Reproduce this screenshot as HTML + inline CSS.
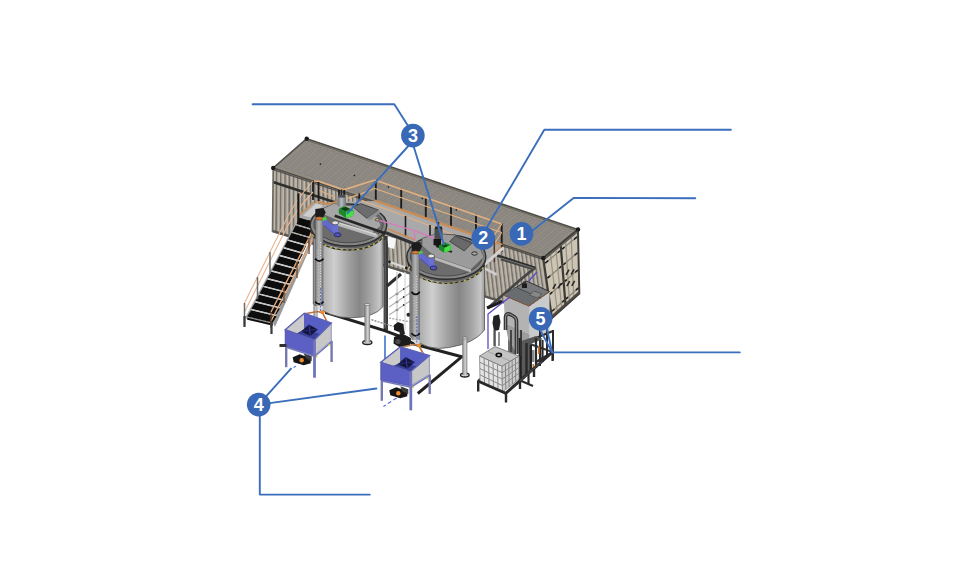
<!DOCTYPE html>
<html><head><meta charset="utf-8"><title>Plant layout</title>
<style>html,body{margin:0;padding:0;background:#fff;}svg{display:block;}</style></head>
<body>
<svg width="953" height="577" viewBox="0 0 953 577">
<defs>
<filter id="soft" x="0" y="0" width="953" height="577" filterUnits="userSpaceOnUse"><feGaussianBlur stdDeviation="0.45"/></filter>
<linearGradient id="tg" x1="0" x2="1" y1="0" y2="0">
<stop offset="0" stop-color="#8c8d8f"/><stop offset="0.12" stop-color="#a9aaab"/><stop offset="0.30" stop-color="#cfcfcf"/>
<stop offset="0.50" stop-color="#a2a2a2"/><stop offset="0.66" stop-color="#868686"/><stop offset="0.84" stop-color="#a8a8a8"/>
<stop offset="0.95" stop-color="#c6c6c6"/><stop offset="1" stop-color="#9a9a9a"/>
</linearGradient>
<linearGradient id="lg" x1="0" x2="1" y1="0" y2="0">
<stop offset="0" stop-color="#6e6e6e"/><stop offset="0.25" stop-color="#a2a2a2"/><stop offset="0.6" stop-color="#d6d6d6"/><stop offset="1" stop-color="#7c7c7c"/>
</linearGradient>
<linearGradient id="mg" x1="0" x2="1" y1="0" y2="0"><stop offset="0" stop-color="#6e7478"/><stop offset="0.45" stop-color="#b4babd"/><stop offset="1" stop-color="#70767a"/></linearGradient>
<linearGradient id="pg" x1="0" x2="1" y1="0" y2="0">
<stop offset="0" stop-color="#5e5e5e"/><stop offset="0.12" stop-color="#8a8a8a"/><stop offset="0.45" stop-color="#b4b4b4"/><stop offset="0.85" stop-color="#8c8c8c"/><stop offset="1" stop-color="#5a5a5a"/>
</linearGradient>
</defs>
<rect width="953" height="577" fill="#fff"/>
<g id="illustration" filter="url(#soft)">
<g id="container">
<polygon points="273.2,168.0 543.3,258.0 552.0,318.0 272.5,232.0" fill="#bfb6a7" />
<polygon points="275.8,168.9 277.4,169.4 276.9,233.3 275.2,232.8" fill="#76736e" />
<polygon points="273.2,168.0 274.0,168.3 273.4,232.3 272.5,232.0" fill="#a09e99" />
<polygon points="280.0,170.3 281.6,170.8 281.2,234.7 279.6,234.2" fill="#76736e" />
<polygon points="277.4,169.4 278.3,169.7 277.7,233.6 276.9,233.3" fill="#a09e99" />
<polygon points="284.3,171.7 285.9,172.2 285.6,236.0 283.9,235.5" fill="#76736e" />
<polygon points="281.6,170.8 282.5,171.1 282.1,235.0 281.2,234.7" fill="#a09e99" />
<polygon points="288.5,173.1 290.1,173.6 290.0,237.4 288.3,236.9" fill="#76736e" />
<polygon points="285.9,172.2 286.7,172.5 286.5,236.3 285.6,236.0" fill="#a09e99" />
<polygon points="292.7,174.5 294.3,175.0 294.3,238.7 292.7,238.2" fill="#76736e" />
<polygon points="290.1,173.6 290.9,173.9 290.8,237.6 290.0,237.4" fill="#a09e99" />
<polygon points="296.9,175.9 298.5,176.4 298.7,240.1 297.0,239.6" fill="#76736e" />
<polygon points="294.3,175.0 295.1,175.3 295.2,239.0 294.3,238.7" fill="#a09e99" />
<polygon points="301.1,177.3 302.7,177.8 303.1,241.4 301.4,240.9" fill="#76736e" />
<polygon points="298.5,176.4 299.4,176.7 299.6,240.3 298.7,240.1" fill="#a09e99" />
<polygon points="305.4,178.7 307.0,179.2 307.4,242.8 305.8,242.2" fill="#76736e" />
<polygon points="302.7,177.8 303.6,178.1 303.9,241.7 303.1,241.4" fill="#a09e99" />
<polygon points="309.6,180.1 311.2,180.7 311.8,244.1 310.1,243.6" fill="#76736e" />
<polygon points="307.0,179.2 307.8,179.5 308.3,243.0 307.4,242.8" fill="#a09e99" />
<polygon points="313.8,181.5 315.4,182.1 316.2,245.4 314.5,244.9" fill="#76736e" />
<polygon points="311.2,180.7 312.0,180.9 312.7,244.4 311.8,244.1" fill="#a09e99" />
<polygon points="318.0,182.9 319.6,183.5 320.5,246.8 318.9,246.3" fill="#76736e" />
<polygon points="315.4,182.1 316.2,182.3 317.0,245.7 316.2,245.4" fill="#a09e99" />
<polygon points="322.2,184.3 323.8,184.9 324.9,248.1 323.2,247.6" fill="#76736e" />
<polygon points="319.6,183.5 320.5,183.8 321.4,247.1 320.5,246.8" fill="#a09e99" />
<polygon points="326.5,185.7 328.1,186.3 329.3,249.5 327.6,249.0" fill="#76736e" />
<polygon points="323.8,184.9 324.7,185.2 325.8,248.4 324.9,248.1" fill="#a09e99" />
<polygon points="330.7,187.2 332.3,187.7 333.6,250.8 332.0,250.3" fill="#76736e" />
<polygon points="328.1,186.3 328.9,186.6 330.1,249.7 329.3,249.5" fill="#a09e99" />
<polygon points="334.9,188.6 336.5,189.1 338.0,252.2 336.3,251.6" fill="#76736e" />
<polygon points="332.3,187.7 333.1,188.0 334.5,251.1 333.6,250.8" fill="#a09e99" />
<polygon points="339.1,190.0 340.7,190.5 342.4,253.5 340.7,253.0" fill="#76736e" />
<polygon points="336.5,189.1 337.3,189.4 338.9,252.4 338.0,252.2" fill="#a09e99" />
<polygon points="343.3,191.4 344.9,191.9 346.7,254.8 345.1,254.3" fill="#76736e" />
<polygon points="340.7,190.5 341.6,190.8 343.2,253.8 342.4,253.5" fill="#a09e99" />
<polygon points="347.6,192.8 349.2,193.3 351.1,256.2 349.4,255.7" fill="#76736e" />
<polygon points="344.9,191.9 345.8,192.2 347.6,255.1 346.7,254.8" fill="#a09e99" />
<polygon points="351.8,194.2 353.4,194.7 355.5,257.5 353.8,257.0" fill="#76736e" />
<polygon points="349.2,193.3 350.0,193.6 352.0,256.5 351.1,256.2" fill="#a09e99" />
<polygon points="356.0,195.6 357.6,196.1 359.8,258.9 358.2,258.4" fill="#76736e" />
<polygon points="353.4,194.7 354.2,195.0 356.4,257.8 355.5,257.5" fill="#a09e99" />
<polygon points="360.2,197.0 361.8,197.5 364.2,260.2 362.6,259.7" fill="#76736e" />
<polygon points="357.6,196.1 358.5,196.4 360.7,259.1 359.8,258.9" fill="#a09e99" />
<polygon points="364.4,198.4 366.0,198.9 368.6,261.6 366.9,261.1" fill="#76736e" />
<polygon points="361.8,197.5 362.7,197.8 365.1,260.5 364.2,260.2" fill="#a09e99" />
<polygon points="368.7,199.8 370.3,200.3 372.9,262.9 371.3,262.4" fill="#76736e" />
<polygon points="366.0,198.9 366.9,199.2 369.5,261.8 368.6,261.6" fill="#a09e99" />
<polygon points="372.9,201.2 374.5,201.8 377.3,264.2 375.7,263.7" fill="#76736e" />
<polygon points="370.3,200.3 371.1,200.6 373.8,263.2 372.9,262.9" fill="#a09e99" />
<polygon points="377.1,202.6 378.7,203.2 381.7,265.6 380.0,265.1" fill="#76736e" />
<polygon points="374.5,201.8 375.3,202.0 378.2,264.5 377.3,264.2" fill="#a09e99" />
<polygon points="381.3,204.0 382.9,204.6 386.0,266.9 384.4,266.4" fill="#76736e" />
<polygon points="378.7,203.2 379.6,203.4 382.6,265.9 381.7,265.6" fill="#a09e99" />
<polygon points="385.5,205.4 387.1,206.0 390.4,268.3 388.8,267.8" fill="#76736e" />
<polygon points="382.9,204.6 383.8,204.8 386.9,267.2 386.0,266.9" fill="#a09e99" />
<polygon points="389.8,206.8 391.4,207.4 394.8,269.6 393.1,269.1" fill="#76736e" />
<polygon points="387.1,206.0 388.0,206.2 391.3,268.6 390.4,268.3" fill="#a09e99" />
<polygon points="394.0,208.2 395.6,208.8 399.1,271.0 397.5,270.5" fill="#76736e" />
<polygon points="391.4,207.4 392.2,207.7 395.7,269.9 394.8,269.6" fill="#a09e99" />
<polygon points="398.2,209.7 399.8,210.2 403.5,272.3 401.9,271.8" fill="#76736e" />
<polygon points="395.6,208.8 396.4,209.1 400.0,271.2 399.1,271.0" fill="#a09e99" />
<polygon points="402.4,211.1 404.0,211.6 407.9,273.7 406.2,273.1" fill="#76736e" />
<polygon points="399.8,210.2 400.7,210.5 404.4,272.6 403.5,272.3" fill="#a09e99" />
<polygon points="406.6,212.5 408.2,213.0 412.2,275.0 410.6,274.5" fill="#76736e" />
<polygon points="404.0,211.6 404.9,211.9 408.8,273.9 407.9,273.7" fill="#a09e99" />
<polygon points="410.9,213.9 412.5,214.4 416.6,276.3 415.0,275.8" fill="#76736e" />
<polygon points="408.2,213.0 409.1,213.3 413.1,275.3 412.2,275.0" fill="#a09e99" />
<polygon points="415.1,215.3 416.7,215.8 421.0,277.7 419.3,277.2" fill="#76736e" />
<polygon points="412.5,214.4 413.3,214.7 417.5,276.6 416.6,276.3" fill="#a09e99" />
<polygon points="419.3,216.7 420.9,217.2 425.4,279.0 423.7,278.5" fill="#76736e" />
<polygon points="416.7,215.8 417.5,216.1 421.9,278.0 421.0,277.7" fill="#a09e99" />
<polygon points="423.5,218.1 425.1,218.6 429.7,280.4 428.1,279.9" fill="#76736e" />
<polygon points="420.9,217.2 421.8,217.5 426.2,279.3 425.4,279.0" fill="#a09e99" />
<polygon points="427.7,219.5 429.4,220.0 434.1,281.7 432.4,281.2" fill="#76736e" />
<polygon points="425.1,218.6 426.0,218.9 430.6,280.6 429.7,280.4" fill="#a09e99" />
<polygon points="432.0,220.9 433.6,221.4 438.5,283.1 436.8,282.6" fill="#76736e" />
<polygon points="429.4,220.0 430.2,220.3 435.0,282.0 434.1,281.7" fill="#a09e99" />
<polygon points="436.2,222.3 437.8,222.8 442.8,284.4 441.2,283.9" fill="#76736e" />
<polygon points="433.6,221.4 434.4,221.7 439.3,283.3 438.5,283.1" fill="#a09e99" />
<polygon points="440.4,223.7 442.0,224.2 447.2,285.8 445.5,285.2" fill="#76736e" />
<polygon points="437.8,222.8 438.6,223.1 443.7,284.7 442.8,284.4" fill="#a09e99" />
<polygon points="444.6,225.1 446.2,225.7 451.6,287.1 449.9,286.6" fill="#76736e" />
<polygon points="442.0,224.2 442.9,224.5 448.1,286.0 447.2,285.8" fill="#a09e99" />
<polygon points="448.8,226.5 450.5,227.1 455.9,288.4 454.3,287.9" fill="#76736e" />
<polygon points="446.2,225.7 447.1,225.9 452.4,287.4 451.6,287.1" fill="#a09e99" />
<polygon points="453.1,227.9 454.7,228.5 460.3,289.8 458.6,289.3" fill="#76736e" />
<polygon points="450.5,227.1 451.3,227.3 456.8,288.7 455.9,288.4" fill="#a09e99" />
<polygon points="457.3,229.3 458.9,229.9 464.7,291.1 463.0,290.6" fill="#76736e" />
<polygon points="454.7,228.5 455.5,228.8 461.2,290.1 460.3,289.8" fill="#a09e99" />
<polygon points="461.5,230.7 463.1,231.3 469.0,292.5 467.4,292.0" fill="#76736e" />
<polygon points="458.9,229.9 459.7,230.2 465.5,291.4 464.7,291.1" fill="#a09e99" />
<polygon points="465.7,232.2 467.3,232.7 473.4,293.8 471.7,293.3" fill="#76736e" />
<polygon points="463.1,231.3 464.0,231.6 469.9,292.7 469.0,292.5" fill="#a09e99" />
<polygon points="470.0,233.6 471.6,234.1 477.8,295.2 476.1,294.6" fill="#76736e" />
<polygon points="467.3,232.7 468.2,233.0 474.3,294.1 473.4,293.8" fill="#a09e99" />
<polygon points="474.2,235.0 475.8,235.5 482.1,296.5 480.5,296.0" fill="#76736e" />
<polygon points="471.6,234.1 472.4,234.4 478.6,295.4 477.8,295.2" fill="#a09e99" />
<polygon points="478.4,236.4 480.0,236.9 486.5,297.8 484.8,297.3" fill="#76736e" />
<polygon points="475.8,235.5 476.6,235.8 483.0,296.8 482.1,296.5" fill="#a09e99" />
<polygon points="482.6,237.8 484.2,238.3 490.9,299.2 489.2,298.7" fill="#76736e" />
<polygon points="480.0,236.9 480.8,237.2 487.4,298.1 486.5,297.8" fill="#a09e99" />
<polygon points="486.8,239.2 488.4,239.7 495.2,300.5 493.6,300.0" fill="#76736e" />
<polygon points="484.2,238.3 485.1,238.6 491.7,299.5 490.9,299.2" fill="#a09e99" />
<polygon points="491.1,240.6 492.7,241.1 499.6,301.9 497.9,301.4" fill="#76736e" />
<polygon points="488.4,239.7 489.3,240.0 496.1,300.8 495.2,300.5" fill="#a09e99" />
<polygon points="495.3,242.0 496.9,242.5 504.0,303.2 502.3,302.7" fill="#76736e" />
<polygon points="492.7,241.1 493.5,241.4 500.5,302.1 499.6,301.9" fill="#a09e99" />
<polygon points="499.5,243.4 501.1,243.9 508.3,304.6 506.7,304.1" fill="#76736e" />
<polygon points="496.9,242.5 497.7,242.8 504.8,303.5 504.0,303.2" fill="#a09e99" />
<polygon points="503.7,244.8 505.3,245.3 512.7,305.9 511.0,305.4" fill="#76736e" />
<polygon points="501.1,243.9 501.9,244.2 509.2,304.8 508.3,304.6" fill="#a09e99" />
<polygon points="507.9,246.2 509.5,246.8 517.1,307.2 515.4,306.7" fill="#76736e" />
<polygon points="505.3,245.3 506.2,245.6 513.6,306.2 512.7,305.9" fill="#a09e99" />
<polygon points="512.2,247.6 513.8,248.2 521.4,308.6 519.8,308.1" fill="#76736e" />
<polygon points="509.5,246.8 510.4,247.0 517.9,307.5 517.1,307.2" fill="#a09e99" />
<polygon points="516.4,249.0 518.0,249.6 525.8,309.9 524.1,309.4" fill="#76736e" />
<polygon points="513.8,248.2 514.6,248.4 522.3,308.9 521.4,308.6" fill="#a09e99" />
<polygon points="520.6,250.4 522.2,251.0 530.2,311.3 528.5,310.8" fill="#76736e" />
<polygon points="518.0,249.6 518.8,249.8 526.7,310.2 525.8,309.9" fill="#a09e99" />
<polygon points="524.8,251.8 526.4,252.4 534.5,312.6 532.9,312.1" fill="#76736e" />
<polygon points="522.2,251.0 523.0,251.2 531.0,311.6 530.2,311.3" fill="#a09e99" />
<polygon points="529.0,253.2 530.6,253.8 538.9,314.0 537.2,313.5" fill="#76736e" />
<polygon points="526.4,252.4 527.3,252.7 535.4,312.9 534.5,312.6" fill="#a09e99" />
<polygon points="533.3,254.7 534.9,255.2 543.3,315.3 541.6,314.8" fill="#76736e" />
<polygon points="530.6,253.8 531.5,254.1 539.8,314.2 538.9,314.0" fill="#a09e99" />
<polygon points="537.5,256.1 539.1,256.6 547.6,316.7 546.0,316.1" fill="#76736e" />
<polygon points="534.9,255.2 535.7,255.5 544.1,315.6 543.3,315.3" fill="#a09e99" />
<polygon points="541.7,257.5 543.3,258.0 552.0,318.0 550.3,317.5" fill="#76736e" />
<polygon points="539.1,256.6 539.9,256.9 548.5,316.9 547.6,316.7" fill="#a09e99" />
<polyline points="273.2,169.6 543.5,259.5" fill="none" stroke="#57544f" stroke-width="1.5" />
<polyline points="273.0,182.1 535.4,268.0" fill="none" stroke="#2e2d2b" stroke-width="2.6" />
<polyline points="272.5,231.0 551.9,317.1" fill="none" stroke="#5a5752" stroke-width="2.4" />
<polyline points="273.2,168.0 272.5,232.0" fill="none" stroke="#6a675f" stroke-width="1.6" />
<polygon points="306.7,138.7 578.0,229.5 543.3,258.0 273.2,168.0" fill="#938b7f" />
<polygon points="304.7,142.1 308.6,143.4 281.8,166.8 277.9,165.5" fill="none" stroke="#7e8389" stroke-width="1.0" stroke-linejoin="round"/>
<polygon points="311.3,144.3 315.3,145.6 288.4,169.0 284.5,167.7" fill="none" stroke="#7e8389" stroke-width="1.0" stroke-linejoin="round"/>
<polygon points="317.9,146.5 321.9,147.8 295.0,171.2 291.0,169.9" fill="none" stroke="#7e8389" stroke-width="1.0" stroke-linejoin="round"/>
<polygon points="324.5,148.7 328.5,150.0 301.6,173.4 297.6,172.1" fill="none" stroke="#7e8389" stroke-width="1.0" stroke-linejoin="round"/>
<polygon points="331.1,150.9 335.1,152.3 308.2,175.6 304.2,174.3" fill="none" stroke="#7e8389" stroke-width="1.0" stroke-linejoin="round"/>
<polygon points="337.7,153.1 341.7,154.5 314.8,177.8 310.8,176.5" fill="none" stroke="#7e8389" stroke-width="1.0" stroke-linejoin="round"/>
<polygon points="344.4,155.3 348.3,156.7 321.4,180.0 317.4,178.7" fill="none" stroke="#7e8389" stroke-width="1.0" stroke-linejoin="round"/>
<polygon points="351.0,157.6 354.9,158.9 328.0,182.2 324.0,180.9" fill="none" stroke="#7e8389" stroke-width="1.0" stroke-linejoin="round"/>
<polygon points="357.6,159.8 361.6,161.1 334.5,184.4 330.6,183.1" fill="none" stroke="#7e8389" stroke-width="1.0" stroke-linejoin="round"/>
<polygon points="364.2,162.0 368.2,163.3 341.1,186.6 337.2,185.3" fill="none" stroke="#7e8389" stroke-width="1.0" stroke-linejoin="round"/>
<polygon points="370.8,164.2 374.8,165.5 347.7,188.8 343.8,187.5" fill="none" stroke="#7e8389" stroke-width="1.0" stroke-linejoin="round"/>
<polygon points="377.4,166.4 381.4,167.7 354.3,191.0 350.4,189.7" fill="none" stroke="#7e8389" stroke-width="1.0" stroke-linejoin="round"/>
<polygon points="384.0,168.6 388.0,170.0 360.9,193.2 357.0,191.9" fill="none" stroke="#7e8389" stroke-width="1.0" stroke-linejoin="round"/>
<polygon points="390.7,170.8 394.6,172.2 367.5,195.4 363.5,194.1" fill="none" stroke="#7e8389" stroke-width="1.0" stroke-linejoin="round"/>
<polygon points="397.3,173.1 401.2,174.4 374.1,197.6 370.1,196.3" fill="none" stroke="#7e8389" stroke-width="1.0" stroke-linejoin="round"/>
<polygon points="403.9,175.3 407.9,176.6 380.7,199.8 376.7,198.5" fill="none" stroke="#7e8389" stroke-width="1.0" stroke-linejoin="round"/>
<polygon points="410.5,177.5 414.5,178.8 387.3,202.0 383.3,200.7" fill="none" stroke="#7e8389" stroke-width="1.0" stroke-linejoin="round"/>
<polygon points="417.1,179.7 421.1,181.0 393.9,204.2 389.9,202.9" fill="none" stroke="#7e8389" stroke-width="1.0" stroke-linejoin="round"/>
<polygon points="423.7,181.9 427.7,183.2 400.5,206.4 396.5,205.1" fill="none" stroke="#7e8389" stroke-width="1.0" stroke-linejoin="round"/>
<polygon points="430.3,184.1 434.3,185.4 407.0,208.6 403.1,207.3" fill="none" stroke="#7e8389" stroke-width="1.0" stroke-linejoin="round"/>
<polygon points="437.0,186.3 440.9,187.7 413.6,210.8 409.7,209.5" fill="none" stroke="#7e8389" stroke-width="1.0" stroke-linejoin="round"/>
<polygon points="443.6,188.5 447.5,189.9 420.2,213.0 416.3,211.6" fill="none" stroke="#7e8389" stroke-width="1.0" stroke-linejoin="round"/>
<polygon points="450.2,190.8 454.2,192.1 426.8,215.2 422.9,213.8" fill="none" stroke="#7e8389" stroke-width="1.0" stroke-linejoin="round"/>
<polygon points="456.8,193.0 460.8,194.3 433.4,217.4 429.5,216.0" fill="none" stroke="#7e8389" stroke-width="1.0" stroke-linejoin="round"/>
<polygon points="463.4,195.2 467.4,196.5 440.0,219.6 436.0,218.2" fill="none" stroke="#7e8389" stroke-width="1.0" stroke-linejoin="round"/>
<polygon points="470.0,197.4 474.0,198.7 446.6,221.8 442.6,220.4" fill="none" stroke="#7e8389" stroke-width="1.0" stroke-linejoin="round"/>
<polygon points="476.6,199.6 480.6,200.9 453.2,224.0 449.2,222.6" fill="none" stroke="#7e8389" stroke-width="1.0" stroke-linejoin="round"/>
<polygon points="483.3,201.8 487.2,203.1 459.8,226.1 455.8,224.8" fill="none" stroke="#7e8389" stroke-width="1.0" stroke-linejoin="round"/>
<polygon points="489.9,204.0 493.8,205.4 466.4,228.3 462.4,227.0" fill="none" stroke="#7e8389" stroke-width="1.0" stroke-linejoin="round"/>
<polygon points="496.5,206.2 500.5,207.6 473.0,230.5 469.0,229.2" fill="none" stroke="#7e8389" stroke-width="1.0" stroke-linejoin="round"/>
<polygon points="503.1,208.5 507.1,209.8 479.5,232.7 475.6,231.4" fill="none" stroke="#7e8389" stroke-width="1.0" stroke-linejoin="round"/>
<polygon points="509.7,210.7 513.7,212.0 486.1,234.9 482.2,233.6" fill="none" stroke="#7e8389" stroke-width="1.0" stroke-linejoin="round"/>
<polygon points="516.3,212.9 520.3,214.2 492.7,237.1 488.8,235.8" fill="none" stroke="#7e8389" stroke-width="1.0" stroke-linejoin="round"/>
<polygon points="522.9,215.1 526.9,216.4 499.3,239.3 495.4,238.0" fill="none" stroke="#7e8389" stroke-width="1.0" stroke-linejoin="round"/>
<polygon points="529.6,217.3 533.5,218.6 505.9,241.5 502.0,240.2" fill="none" stroke="#7e8389" stroke-width="1.0" stroke-linejoin="round"/>
<polygon points="536.2,219.5 540.1,220.8 512.5,243.7 508.5,242.4" fill="none" stroke="#7e8389" stroke-width="1.0" stroke-linejoin="round"/>
<polygon points="542.8,221.7 546.8,223.1 519.1,245.9 515.1,244.6" fill="none" stroke="#7e8389" stroke-width="1.0" stroke-linejoin="round"/>
<polygon points="549.4,223.9 553.4,225.3 525.7,248.1 521.7,246.8" fill="none" stroke="#7e8389" stroke-width="1.0" stroke-linejoin="round"/>
<polygon points="556.0,226.2 560.0,227.5 532.3,250.3 528.3,249.0" fill="none" stroke="#7e8389" stroke-width="1.0" stroke-linejoin="round"/>
<polygon points="562.6,228.4 566.6,229.7 538.9,252.5 534.9,251.2" fill="none" stroke="#7e8389" stroke-width="1.0" stroke-linejoin="round"/>
<polygon points="569.2,230.6 573.2,231.9 545.5,254.7 541.5,253.4" fill="none" stroke="#7e8389" stroke-width="1.0" stroke-linejoin="round"/>
<ellipse cx="320.4" cy="164.1" rx="0.9" ry="0.8" fill="#1e1e1e" />
<ellipse cx="354.4" cy="175.5" rx="0.9" ry="0.8" fill="#1e1e1e" />
<ellipse cx="388.4" cy="187.0" rx="0.9" ry="0.8" fill="#1e1e1e" />
<ellipse cx="422.4" cy="198.4" rx="0.9" ry="0.8" fill="#1e1e1e" />
<ellipse cx="456.4" cy="209.9" rx="0.9" ry="0.8" fill="#1e1e1e" />
<ellipse cx="490.4" cy="221.3" rx="0.9" ry="0.8" fill="#1e1e1e" />
<ellipse cx="524.4" cy="232.8" rx="0.9" ry="0.8" fill="#1e1e1e" />
<polygon points="306.7,138.7 578.0,229.5 543.3,258.0 273.2,168.0" fill="none" stroke="#504d48" stroke-width="1.5" />
<polyline points="305.4,139.9 576.6,230.6" fill="none" stroke="#6b675f" stroke-width="1" />
<polygon points="543.3,258.0 578.0,229.5 579.3,293.6 552.0,318.0" fill="#cdc5b4" stroke="#3e3c39" stroke-width="2" />
<line x1="550.5" y1="254.7" x2="557.2" y2="310.7" stroke="#979184" stroke-width="1.2" />
<line x1="556.0" y1="250.2" x2="561.6" y2="306.8" stroke="#979184" stroke-width="1.2" />
<line x1="565.7" y1="242.3" x2="569.3" y2="299.9" stroke="#979184" stroke-width="1.2" />
<line x1="571.2" y1="237.7" x2="573.7" y2="295.9" stroke="#979184" stroke-width="1.2" />
<line x1="545.5" y1="262.9" x2="560.1" y2="250.8" stroke="#8b8579" stroke-width="1.3" />
<line x1="562.2" y1="249.1" x2="576.8" y2="237.0" stroke="#8b8579" stroke-width="1.3" />
<line x1="545.2" y1="263.2" x2="548.2" y2="260.6" stroke="#1f1e1c" stroke-width="1.5" />
<line x1="557.8" y1="252.8" x2="560.1" y2="250.8" stroke="#1f1e1c" stroke-width="1.5" />
<line x1="562.2" y1="249.1" x2="564.5" y2="247.1" stroke="#1f1e1c" stroke-width="1.5" />
<line x1="574.1" y1="239.3" x2="577.1" y2="236.8" stroke="#1f1e1c" stroke-width="1.5" />
<line x1="547.6" y1="277.9" x2="561.4" y2="266.3" stroke="#8b8579" stroke-width="1.3" />
<line x1="563.4" y1="264.7" x2="577.2" y2="253.0" stroke="#8b8579" stroke-width="1.3" />
<line x1="547.3" y1="278.2" x2="550.2" y2="275.8" stroke="#1f1e1c" stroke-width="1.5" />
<line x1="559.2" y1="268.2" x2="561.4" y2="266.3" stroke="#1f1e1c" stroke-width="1.5" />
<line x1="563.4" y1="264.7" x2="565.6" y2="262.8" stroke="#1f1e1c" stroke-width="1.5" />
<line x1="574.6" y1="255.2" x2="577.5" y2="252.7" stroke="#1f1e1c" stroke-width="1.5" />
<line x1="549.9" y1="294.2" x2="562.8" y2="283.0" stroke="#8b8579" stroke-width="1.3" />
<line x1="564.7" y1="281.4" x2="577.6" y2="270.3" stroke="#8b8579" stroke-width="1.3" />
<line x1="549.6" y1="294.4" x2="552.3" y2="292.1" stroke="#1f1e1c" stroke-width="1.5" />
<line x1="560.7" y1="284.8" x2="562.8" y2="283.0" stroke="#1f1e1c" stroke-width="1.5" />
<line x1="564.7" y1="281.4" x2="566.8" y2="279.6" stroke="#1f1e1c" stroke-width="1.5" />
<line x1="575.2" y1="272.4" x2="577.9" y2="270.0" stroke="#1f1e1c" stroke-width="1.5" />
<line x1="552.3" y1="311.0" x2="564.3" y2="300.3" stroke="#8b8579" stroke-width="1.3" />
<line x1="566.0" y1="298.9" x2="578.0" y2="288.2" stroke="#8b8579" stroke-width="1.3" />
<line x1="552.0" y1="311.3" x2="554.5" y2="309.0" stroke="#1f1e1c" stroke-width="1.5" />
<line x1="562.3" y1="302.1" x2="564.3" y2="300.3" stroke="#1f1e1c" stroke-width="1.5" />
<line x1="566.0" y1="298.9" x2="568.0" y2="297.1" stroke="#1f1e1c" stroke-width="1.5" />
<line x1="575.8" y1="290.2" x2="578.3" y2="287.9" stroke="#1f1e1c" stroke-width="1.5" />
<line x1="560.6" y1="243.8" x2="565.6" y2="305.8" stroke="#3a3835" stroke-width="2.2" />
<line x1="566.1" y1="274.9" x2="569.0" y2="269.7" stroke="#2a2927" stroke-width="1.6" />
<line x1="571.2" y1="274.5" x2="574.1" y2="269.3" stroke="#2a2927" stroke-width="1.6" />
<line x1="566.9" y1="286.1" x2="569.7" y2="281.1" stroke="#2a2927" stroke-width="1.6" />
<line x1="571.8" y1="285.8" x2="574.6" y2="280.8" stroke="#2a2927" stroke-width="1.6" />
<line x1="558.2" y1="288.4" x2="560.9" y2="283.3" stroke="#2a2927" stroke-width="1.6" />
<line x1="552.9" y1="288.9" x2="555.7" y2="283.8" stroke="#2a2927" stroke-width="1.6" />
<line x1="543.6" y1="259.8" x2="578.0" y2="231.4" stroke="#5d5a54" stroke-width="1.6" />
<line x1="551.8" y1="316.5" x2="579.3" y2="292.0" stroke="#4d4a45" stroke-width="2" />
<ellipse cx="306.7" cy="138.7" rx="2.2" ry="2.2" fill="#1c1c1c" />
<ellipse cx="578.0" cy="229.5" rx="2.2" ry="2.2" fill="#1c1c1c" />
<ellipse cx="543.3" cy="258.0" rx="2.2" ry="2.2" fill="#1c1c1c" />
<ellipse cx="273.2" cy="168.0" rx="2.2" ry="2.2" fill="#1c1c1c" />
</g>
<g id="platform">
<polygon points="300.0,215.0 314.0,202.5 327.0,205.5 338.0,202.0 375.0,201.0 503.0,244.0 494.0,262.0 470.0,262.0 412.0,244.0 386.0,235.0 300.0,221.0" fill="#a9a9a9" />
<polygon points="303.0,215.5 316.0,203.5 323.0,205.5 311.0,217.5" fill="#cdcdcd" />
<line x1="375.8" y1="179.5" x2="375.8" y2="200.5" stroke="#1c1c1c" stroke-width="1.9" />
<line x1="401.2" y1="188.4" x2="401.2" y2="209.4" stroke="#1c1c1c" stroke-width="1.9" />
<line x1="425.8" y1="197.0" x2="425.8" y2="218.0" stroke="#1c1c1c" stroke-width="1.9" />
<line x1="451.0" y1="205.8" x2="451.0" y2="226.8" stroke="#1c1c1c" stroke-width="1.9" />
<line x1="476.0" y1="214.5" x2="476.0" y2="235.5" stroke="#1c1c1c" stroke-width="1.9" />
<line x1="501.7" y1="223.5" x2="501.7" y2="244.5" stroke="#1c1c1c" stroke-width="1.9" />
<polyline points="374.8,180.0 501.7,224.0" fill="none" stroke="#e2b080" stroke-width="1.5" />
<polyline points="374.8,188.5 501.7,232.5" fill="none" stroke="#e2b080" stroke-width="1.3" />
<polyline points="374.8,200.7 501.7,244.7" fill="none" stroke="#c98d58" stroke-width="2.4" />
<polyline points="361.3,200.7 390.0,210.5 470.0,241.0" fill="none" stroke="#e2b080" stroke-width="1.3" />
<polyline points="313.0,181.0 318.5,181.3 343.7,189.8 374.8,180.0" fill="none" stroke="#e2b080" stroke-width="1.6" />
<polyline points="318.5,190.0 335.3,197.5" fill="none" stroke="#e2b080" stroke-width="1.3" />
<polyline points="346.8,198.6 359.3,194.4 374.8,188.5" fill="none" stroke="#e2b080" stroke-width="1.3" />
<polyline points="316.6,201.2 327.0,204.3 337.4,201.7" fill="none" stroke="#c98d58" stroke-width="2" />
<line x1="318.5" y1="182.0" x2="318.5" y2="201.0" stroke="#1c1c1c" stroke-width="1.8" />
<line x1="313.0" y1="180.5" x2="313.0" y2="200.0" stroke="#1c1c1c" stroke-width="1.8" />
<line x1="339.0" y1="190.0" x2="339.0" y2="199.0" stroke="#1c1c1c" stroke-width="1.8" />
<line x1="344.2" y1="190.0" x2="344.2" y2="199.0" stroke="#1c1c1c" stroke-width="1.8" />
<line x1="359.3" y1="193.4" x2="359.3" y2="201.0" stroke="#1c1c1c" stroke-width="1.8" />
<polyline points="300.0,214.5 314.0,202.0" fill="none" stroke="#c98d58" stroke-width="1.6" />
<line x1="405.5" y1="216.0" x2="405.5" y2="237.0" stroke="#1c1c1c" stroke-width="1.6" />
<line x1="430.0" y1="225.0" x2="430.0" y2="238.0" stroke="#1c1c1c" stroke-width="1.6" />
<polyline points="388.0,229.0 415.0,240.0" fill="none" stroke="#c98d58" stroke-width="1.8" />
<polyline points="300.0,221.0 320.0,222.0" fill="none" stroke="#3a3a3a" stroke-width="2.4" />
<polyline points="384.0,232.0 420.0,246.0" fill="none" stroke="#333" stroke-width="3" />
<polyline points="501.7,224.0 494.5,235.0" fill="none" stroke="#e2b080" stroke-width="1.3" />
<polyline points="501.7,232.5 494.5,243.5" fill="none" stroke="#e2b080" stroke-width="1.2" />
<polyline points="501.7,245.0 493.0,256.0" fill="none" stroke="#c98d58" stroke-width="1.6" />
<line x1="494.3" y1="236.0" x2="494.3" y2="262.0" stroke="#5a3a2a" stroke-width="1.6" />
<line x1="502.0" y1="245.0" x2="502.0" y2="252.0" stroke="#1c1c1c" stroke-width="1.6" />
<polyline points="503.6,247.6 484.0,265.0" fill="none" stroke="#d2d2d2" stroke-width="3" />
<polyline points="484.0,268.0 496.7,274.7" fill="none" stroke="#cfcfcf" stroke-width="2.6" />
</g>
<g id="stairs">
<polygon points="272.8,322.6 315.0,229.0 317.0,232.0 275.0,327.1" fill="#9a9a9a" />
<polygon points="247.2,316.5 272.8,322.6 272.8,325.8 247.2,319.7" fill="#0a0a0a" />
<polyline points="245.7,318.5 295.0,226.0" fill="none" stroke="#a5a5a5" stroke-width="1.6" />
<polygon points="247.2,316.5 272.8,322.6 276.6,316.3 251.0,310.2" fill="#0a0a0a" />
<line x1="247.2" y1="317.2" x2="272.8" y2="323.3" stroke="#b4b4b4" stroke-width="0.9" />
<polygon points="251.3,308.8 276.2,314.8 279.9,308.5 255.1,302.5" fill="#0a0a0a" />
<line x1="251.3" y1="309.5" x2="276.2" y2="315.5" stroke="#b4b4b4" stroke-width="0.9" />
<polygon points="255.4,301.1 279.5,307.0 283.2,300.7 259.1,294.8" fill="#0a0a0a" />
<line x1="255.4" y1="301.8" x2="279.5" y2="307.7" stroke="#b4b4b4" stroke-width="0.9" />
<polygon points="259.5,293.4 282.9,299.2 286.5,292.9 263.2,287.1" fill="#0a0a0a" />
<line x1="259.5" y1="294.1" x2="282.9" y2="299.9" stroke="#b4b4b4" stroke-width="0.9" />
<polygon points="263.6,285.7 286.2,291.4 289.8,285.1 267.2,279.4" fill="#0a0a0a" />
<line x1="263.6" y1="286.4" x2="286.2" y2="292.1" stroke="#b4b4b4" stroke-width="0.9" />
<polygon points="267.7,278.0 289.6,283.6 293.1,277.3 271.3,271.7" fill="#0a0a0a" />
<line x1="267.7" y1="278.7" x2="289.6" y2="284.3" stroke="#b4b4b4" stroke-width="0.9" />
<polygon points="271.9,270.2 292.9,275.8 296.4,269.5 275.3,263.9" fill="#0a0a0a" />
<line x1="271.9" y1="270.9" x2="292.9" y2="276.5" stroke="#b4b4b4" stroke-width="0.9" />
<polygon points="276.0,262.5 296.2,268.0 299.7,261.7 279.4,256.2" fill="#0a0a0a" />
<line x1="276.0" y1="263.2" x2="296.2" y2="268.7" stroke="#b4b4b4" stroke-width="0.9" />
<polygon points="280.1,254.8 299.6,260.2 302.9,253.9 283.4,248.5" fill="#0a0a0a" />
<line x1="280.1" y1="255.5" x2="299.6" y2="260.9" stroke="#b4b4b4" stroke-width="0.9" />
<polygon points="284.2,247.1 302.9,252.4 306.2,246.1 287.5,240.8" fill="#0a0a0a" />
<line x1="284.2" y1="247.8" x2="302.9" y2="253.1" stroke="#b4b4b4" stroke-width="0.9" />
<polygon points="288.3,239.4 306.3,244.6 309.5,238.3 291.5,233.1" fill="#0a0a0a" />
<line x1="288.3" y1="240.1" x2="306.3" y2="245.3" stroke="#b4b4b4" stroke-width="0.9" />
<polygon points="292.4,231.7 309.6,236.8 312.8,230.5 295.6,225.4" fill="#0a0a0a" />
<line x1="292.4" y1="232.4" x2="309.6" y2="237.5" stroke="#b4b4b4" stroke-width="0.9" />
<polygon points="296.5,224.0 313.0,229.0 316.1,222.7 299.6,217.7" fill="#0a0a0a" />
<line x1="296.5" y1="224.7" x2="313.0" y2="229.7" stroke="#b4b4b4" stroke-width="0.9" />
<path d="M244.5,303 L283,226 Q293,203 313,181" fill="none" stroke="#e8b692" stroke-width="1.1"/>
<path d="M244.5,312 L283,235 Q293,213 313,192" fill="none" stroke="#e8b692" stroke-width="1.1"/>
<path d="M271,312 L309,238 L314,226" fill="none" stroke="#dfa87c" stroke-width="1.5"/>
<path d="M271,321 L309,247 L314,235" fill="none" stroke="#dfa87c" stroke-width="1.5"/>
<line x1="244.5" y1="303.0" x2="244.5" y2="325.0" stroke="#6a6a6a" stroke-width="1.5" />
<line x1="257.5" y1="277.0" x2="257.5" y2="299.0" stroke="#6a6a6a" stroke-width="1.5" />
<line x1="270.0" y1="252.0" x2="270.0" y2="274.0" stroke="#6a6a6a" stroke-width="1.5" />
<line x1="298.4" y1="193.5" x2="298.4" y2="222.4" stroke="#141414" stroke-width="2" />
<line x1="271.0" y1="312.0" x2="271.0" y2="328.0" stroke="#6b4a35" stroke-width="1.3" />
<line x1="284.0" y1="287.0" x2="284.0" y2="303.0" stroke="#6b4a35" stroke-width="1.3" />
<line x1="297.0" y1="262.0" x2="297.0" y2="278.0" stroke="#6b4a35" stroke-width="1.3" />
<line x1="309.0" y1="238.0" x2="309.0" y2="254.0" stroke="#6b4a35" stroke-width="1.3" />
<line x1="271.5" y1="322.0" x2="271.5" y2="334.0" stroke="#3a3a3a" stroke-width="2.2" />
<line x1="244.5" y1="316.0" x2="244.5" y2="327.0" stroke="#3a3a3a" stroke-width="2.2" />
</g>
<g id="pipes">
<line x1="385.8" y1="236.0" x2="385.8" y2="330.0" stroke="#3a3a3a" stroke-width="4.4" />
<line x1="385.2" y1="240.0" x2="385.2" y2="328.0" stroke="#5e5e5e" stroke-width="1.2" />
<polyline points="387.0,286.0 401.0,274.0" fill="none" stroke="#2e2e2e" stroke-width="3" />
<polygon points="387.5,236.3 396.0,238.7 394.2,249.0 388.1,247.2" fill="#f6f6f6" />
<polyline points="389.3,261.8 406.3,267.9" fill="none" stroke="#d6d6d6" stroke-width="2.2" />
<ellipse cx="389.5" cy="261.8" rx="1.4" ry="1.4" fill="#1a1a1a" />
<ellipse cx="406.3" cy="268.0" rx="1.4" ry="1.4" fill="#1a1a1a" />
<line x1="389.0" y1="299.0" x2="410.0" y2="285.0" stroke="#b4b4b4" stroke-width="1.2" />
<ellipse cx="397.0" cy="294.0" rx="1.3" ry="1.3" fill="#1a1a1a" />
<ellipse cx="404.0" cy="289.0" rx="1.1" ry="1.1" fill="#1a1a1a" />
<line x1="389.0" y1="307.0" x2="410.0" y2="293.0" stroke="#b4b4b4" stroke-width="1.2" />
<ellipse cx="397.0" cy="302.0" rx="1.3" ry="1.3" fill="#1a1a1a" />
<ellipse cx="404.0" cy="297.0" rx="1.1" ry="1.1" fill="#1a1a1a" />
<line x1="389.0" y1="315.0" x2="410.0" y2="301.0" stroke="#b4b4b4" stroke-width="1.2" />
<ellipse cx="397.0" cy="310.0" rx="1.3" ry="1.3" fill="#1a1a1a" />
<ellipse cx="404.0" cy="305.0" rx="1.1" ry="1.1" fill="#1a1a1a" />
<line x1="397.0" y1="272.0" x2="397.0" y2="330.0" stroke="#cfcfcf" stroke-width="1.4" />
<line x1="405.0" y1="272.0" x2="405.0" y2="330.0" stroke="#d6d6d6" stroke-width="1.2" />
<polyline points="371.4,319.7 393.9,326.6" fill="none" stroke="#8a8a8a" stroke-width="1.4" stroke-dasharray="2 1.2"/>
<polygon points="394.0,325.0 398.0,322.0 403.5,324.0 404.0,329.5 399.0,332.0 394.0,330.0" fill="#1e1e1e" />
<ellipse cx="408.5" cy="314.7" rx="2.0" ry="2.0" fill="#2a2a2a" />
<polyline points="389.0,318.0 411.0,322.0" fill="none" stroke="#9a9a9a" stroke-width="1.2" stroke-dasharray="2 1.4"/>
<polyline points="325.2,312.2 384.6,330.6 402.0,337.0 414.0,344.0 461.7,356.8 417.8,393.5" fill="none" stroke="#232323" stroke-width="3" stroke-linejoin="miter"/>
<polyline points="500.8,258.8 533.5,269.0 520.0,280.0 488.0,308.0" fill="none" stroke="#444" stroke-width="2.8" />
<polyline points="500.8,258.0 533.5,268.2" fill="none" stroke="#7a7a7a" stroke-width="0.9" />
<polyline points="537.0,272.0 528.6,281.0" fill="none" stroke="#5a48c0" stroke-width="1.2" />
</g>
<rect x="313.5" y="300.0" width="4.0" height="18.0" fill="url(#lg)" />
<g id="tank1">
<path d="M313.3,228.0 L313.3,304.0 Q329.0,317.8 350.2,317.8 Q374.4,317.8 383.1,306.5 L383.1,228.0 Z" fill="url(#tg)"/>
<path d="M313.3,228.0 L313.3,304.0 Q329.0,317.8 350.2,317.8 Q374.4,317.8 383.1,306.5 L383.1,228.0 Z" fill="none" stroke="#555" stroke-width="0.8"/>
</g>
<g id="tank2">
<path d="M409.9,260.0 L409.9,336.0 Q426.7,351.9 449.2,347.5 Q475.2,343.1 484.5,330.0 L484.5,260.0 Z" fill="url(#tg)"/>
<path d="M409.9,260.0 L409.9,336.0 Q426.7,351.9 449.2,347.5 Q475.2,343.1 484.5,330.0 L484.5,260.0 Z" fill="none" stroke="#555" stroke-width="0.8"/>
</g>
<ellipse cx="464.8" cy="375.0" rx="4.3" ry="2.0" fill="#cfd4d4" stroke="#1c2424" stroke-width="1.3" />
<rect x="462.3" y="338.0" width="5.0" height="37.0" fill="url(#lg)" />
<ellipse cx="464.8" cy="338.0" rx="2.5" ry="1.0" fill="#e6e6e6" stroke="#444" stroke-width="0.5" />
<ellipse cx="367.3" cy="342.5" rx="4.6" ry="2.0" fill="#cfd4d4" stroke="#1c2424" stroke-width="1.3" />
<rect x="364.5" y="304.5" width="5.6" height="38.0" fill="url(#lg)" />
<ellipse cx="367.3" cy="304.5" rx="2.8" ry="1.0" fill="#e6e6e6" stroke="#444" stroke-width="0.5" />
<ellipse cx="348.5" cy="227.6" rx="37.8" ry="21.0" fill="#5e5e5e" />
<path d="M311.2,229.0 A37.3,21.0 0 0 0 385.8,229.0" fill="none" stroke="#2a2a2a" stroke-width="1.3"/>
<path d="M311.2,229.0 A37.3,21.0 0 0 0 385.8,229.0" fill="none" stroke="#cdbd45" stroke-width="1.1" stroke-dasharray="2.5 3"/>
<ellipse cx="348.5" cy="225.0" rx="38.3" ry="21.0" fill="#868686" stroke="#2e2e2e" stroke-width="1.4" />
<ellipse cx="348.5" cy="224.4" rx="34.7" ry="18.4" fill="#6c6c6c" stroke="#454545" stroke-width="0.9" />
<polygon points="322.0,209.0 334.0,203.5 352.0,206.0 378.0,217.0 381.0,226.0 372.0,233.0 336.0,220.0 322.0,214.0" fill="#a6a6a6" stroke="#555" stroke-width="0.6" />
<polygon points="353.0,207.0 360.5,203.6 378.5,210.0 367.0,218.5" fill="#6c6c6c" stroke="#3c3c3c" stroke-width="0.8" />
<polygon points="367.0,218.5 378.5,210.0 380.5,212.5 369.5,220.5" fill="#8f8f8f" />
<polyline points="334.7,215.8 385.7,233.5" fill="none" stroke="#262626" stroke-width="2.8" />
<polyline points="339.5,224.4 376.0,235.6" fill="none" stroke="#b8b8b8" stroke-width="3.8" stroke-linecap="round"/>
<polyline points="339.5,223.2 376.0,234.4" fill="none" stroke="#d6d6d6" stroke-width="1.2" />
<ellipse cx="446.3" cy="259.6" rx="39.0" ry="22.3" fill="#5e5e5e" />
<path d="M407.8,261.0 A38.5,22.3 0 0 0 484.8,261.0" fill="none" stroke="#2a2a2a" stroke-width="1.3"/>
<path d="M407.8,261.0 A38.5,22.3 0 0 0 484.8,261.0" fill="none" stroke="#cdbd45" stroke-width="1.1" stroke-dasharray="2.5 3"/>
<ellipse cx="446.3" cy="257.0" rx="39.5" ry="22.3" fill="#868686" stroke="#2e2e2e" stroke-width="1.4" />
<ellipse cx="446.3" cy="256.4" rx="35.9" ry="19.7" fill="#6c6c6c" stroke="#454545" stroke-width="0.9" />
<polygon points="422.0,238.5 436.0,233.5 455.0,235.0 479.0,246.0 484.0,257.0 471.0,269.5 435.0,257.0 422.0,246.0" fill="#9b9b9b" stroke="#505050" stroke-width="0.6" />
<polygon points="435.0,257.0 471.0,269.5 471.0,272.5 435.0,260.0" fill="#b9b9b9" />
<polygon points="449.7,241.5 455.4,235.8 471.8,243.4 464.2,251.0" fill="#696969" stroke="#3a3a3a" stroke-width="0.8" />
<polyline points="436.0,246.0 452.0,252.0" fill="none" stroke="#2e2e2e" stroke-width="2" />
<ellipse cx="474.5" cy="253.5" rx="2.8" ry="1.7" fill="#a8a8a8" stroke="#2a2a2a" stroke-width="1" />
<rect x="315.3" y="220.0" width="8.0" height="86.0" fill="url(#pg)" />
<line x1="320.5" y1="242.0" x2="320.5" y2="306.0" stroke="#ededed" stroke-width="0.9" stroke-dasharray="1 1.6"/>
<line x1="317.7" y1="250.0" x2="317.7" y2="306.0" stroke="#dcdcdc" stroke-width="0.7" stroke-dasharray="0.8 2.4"/>
<path d="M315.1,258.6 Q319.3,263.6 323.5,258.6" fill="none" stroke="#0e0e0e" stroke-width="1.7"/>
<path d="M315.1,301.6 Q319.3,306.6 323.5,301.6" fill="none" stroke="#0e0e0e" stroke-width="1.7"/>
<polygon points="316.0,306.0 323.0,306.0 322.5,312.0 320.5,312.0" fill="#d8d8d8" />
<rect x="411.6" y="254.0" width="8.0" height="86.0" fill="url(#pg)" />
<line x1="416.8" y1="276.0" x2="416.8" y2="340.0" stroke="#ededed" stroke-width="0.9" stroke-dasharray="1 1.6"/>
<line x1="414.0" y1="284.0" x2="414.0" y2="340.0" stroke="#dcdcdc" stroke-width="0.7" stroke-dasharray="0.8 2.4"/>
<path d="M411.4,291.9 Q415.6,296.9 419.8,291.9" fill="none" stroke="#0e0e0e" stroke-width="1.7"/>
<path d="M411.4,333.3 Q415.6,338.3 419.8,333.3" fill="none" stroke="#0e0e0e" stroke-width="1.7"/>
<polygon points="412.0,340.0 419.5,340.0 419.5,346.0 417.0,346.0" fill="#d8d8d8" />
<line x1="320.6" y1="288.0" x2="320.6" y2="312.0" stroke="#5a6fd8" stroke-width="1.1" stroke-dasharray="2 1.5"/>
<line x1="416.8" y1="316.0" x2="416.8" y2="346.0" stroke="#5a6fd8" stroke-width="1.1" stroke-dasharray="2 1.5"/>
<polygon points="315.3,209.0 323.3,208.0 325.8,212.5 323.3,217.0 315.3,217.0" fill="#1e1e1e" />
<ellipse cx="319.3" cy="218.4" rx="3.8" ry="1.6" fill="#e07a30" stroke="#333" stroke-width="0.5" />
<polygon points="322.3,218.5 325.8,216.5 327.3,222.5 323.8,225.0" fill="#46d63e" />
<polyline points="325.6,223.2 337.1,233.2" fill="none" stroke="#6267cc" stroke-width="6" stroke-linecap="round"/>
<rect x="332.4" y="223.7" width="5.6" height="8.0" fill="#6a6fd2" />
<ellipse cx="335.2" cy="222.8" rx="3.4" ry="2.0" fill="#e4e4e4" stroke="#4a4a4a" stroke-width="0.8" />
<ellipse cx="337.6" cy="234.8" rx="3.4" ry="2.0" fill="#5257b8" stroke="#2a2a55" stroke-width="1" />
<polyline points="324.6,225.7 333.6,233.7" fill="none" stroke="#4a4fa8" stroke-width="1" />
<rect x="337.7" y="196.0" width="8.3" height="10.3" fill="url(#mg)" />
<rect x="338.3" y="194.6" width="7.0" height="3.0" fill="#4c5054" />
<rect x="340.8" y="189.5" width="1.4" height="5.5" fill="#222" />
<polygon points="338.8,209.0 344.0,206.0 353.8,210.5 353.0,216.0 346.0,218.0 338.8,213.5" fill="#1f8a2b" />
<polygon points="346.0,212.0 353.8,210.5 353.0,216.0 346.0,218.0" fill="#44e044" />
<polygon points="341.0,208.5 346.0,207.0 350.0,209.0 345.0,211.0" fill="#0f3f14" />
<polyline points="377.8,219.8 414.4,230.7 415.0,240.0" fill="none" stroke="#d77bc0" stroke-width="1.4" />
<polyline points="414.4,230.7 434.7,238.5" fill="none" stroke="#d77bc0" stroke-width="1.4" />
<ellipse cx="377.3" cy="219.8" rx="2.2" ry="1.3" fill="#c9b07a" stroke="#333" stroke-width="0.7" />
<polygon points="411.6,243.0 419.6,242.0 422.1,246.5 419.6,251.0 411.6,251.0" fill="#1e1e1e" />
<ellipse cx="415.6" cy="252.4" rx="3.8" ry="1.6" fill="#e07a30" stroke="#333" stroke-width="0.5" />
<polygon points="418.6,252.5 422.1,250.5 423.6,256.5 420.1,259.0" fill="#46d63e" />
<polyline points="421.6,256.4 433.1,266.4" fill="none" stroke="#6267cc" stroke-width="6" stroke-linecap="round"/>
<rect x="428.4" y="256.9" width="5.6" height="8.0" fill="#6a6fd2" />
<ellipse cx="431.2" cy="256.0" rx="3.4" ry="2.0" fill="#e4e4e4" stroke="#4a4a4a" stroke-width="0.8" />
<ellipse cx="433.6" cy="268.0" rx="3.4" ry="2.0" fill="#5257b8" stroke="#2a2a55" stroke-width="1" />
<polyline points="420.6,258.9 429.6,266.9" fill="none" stroke="#4a4fa8" stroke-width="1" />
<rect x="434.5" y="228.0" width="8.0" height="12.0" fill="#4a4d50" />
<rect x="435.0" y="226.5" width="7.0" height="2.5" fill="#2a2a2a" />
<rect x="437.8" y="222.0" width="1.4" height="5.0" fill="#222" />
<polygon points="433.5,239.0 441.0,239.0 441.0,247.0 433.5,245.0" fill="#191919" />
<polygon points="439.0,245.5 445.0,242.2 451.0,245.0 450.4,250.5 444.0,252.8 439.0,249.5" fill="#1f8a2b" />
<polygon points="444.5,247.5 451.0,245.0 450.4,250.5 444.0,252.8" fill="#44e044" />
<polygon points="441.5,245.5 445.5,244.3 448.0,246.0 444.5,247.5" fill="#0f3f14" />
<polygon points="394.0,337.0 402.0,333.5 411.0,338.0 410.0,345.0 400.0,347.5 393.5,343.5" fill="#1c1c1c" />
<ellipse cx="398.0" cy="341.5" rx="2.6" ry="2.6" fill="#4a4a4a" />
<polygon points="399.0,330.0 404.0,329.0 405.0,334.0 400.0,335.0" fill="#222" />
<g id="skid">
<polyline points="477.7,381.0 527.0,343.0 552.6,352.0" fill="none" stroke="#3a3a3a" stroke-width="2.2" />
<polygon points="529.0,306.0 549.5,291.5 549.5,332.0 529.5,344.0" fill="#c9cacb" />
<polygon points="503.5,295.0 529.0,306.0 529.5,334.0 505.0,323.0" fill="#b3b3b4" />
<polygon points="505.0,323.0 529.5,334.0 529.5,344.0 524.0,356.0 516.0,352.0 508.0,338.0" fill="#9d9d9e" />
<polygon points="526.5,281.0 549.5,291.5 529.0,306.0 503.5,295.0" fill="#77797b" stroke="#333" stroke-width="1" />
<polygon points="516.1,287.3 540.3,298.0 529.0,306.0 503.5,295.0" fill="#6b6d6f" />
<polyline points="516.1,287.3 540.3,298.0" fill="none" stroke="#3e3e3e" stroke-width="0.8" />
<polygon points="534.0,291.0 542.0,294.0 537.5,298.0 529.5,295.0" fill="#858789" stroke="#444" stroke-width="0.6" />
<polyline points="503.5,295.0 529.0,306.0 549.5,291.5" fill="none" stroke="#8a5a3a" stroke-width="1" />
<rect x="522.0" y="283.5" width="5.0" height="4.5" fill="#1a1a1a" />
<rect x="523.0" y="281.5" width="3.0" height="2.5" fill="#333" />
<line x1="540.0" y1="326.0" x2="540.0" y2="366.0" stroke="#2c2c2c" stroke-width="2" />
<line x1="547.0" y1="322.0" x2="547.0" y2="358.0" stroke="#2c2c2c" stroke-width="2" />
<line x1="553.0" y1="330.0" x2="553.0" y2="360.0" stroke="#2c2c2c" stroke-width="2" />
<polyline points="536.0,338.0 553.0,331.0" fill="none" stroke="#2c2c2c" stroke-width="2" />
<polyline points="536.0,362.0 553.0,352.0" fill="none" stroke="#2c2c2c" stroke-width="2.4" />
<polygon points="521.5,341.0 536.0,336.0 543.0,339.0 528.0,345.0" fill="#555" />
<line x1="522.5" y1="342.0" x2="522.5" y2="372.0" stroke="#2c2c2c" stroke-width="2.2" />
<line x1="528.5" y1="345.0" x2="528.5" y2="384.0" stroke="#2c2c2c" stroke-width="2.2" />
<line x1="536.0" y1="338.0" x2="536.0" y2="368.0" stroke="#2c2c2c" stroke-width="2.2" />
<line x1="542.5" y1="340.0" x2="542.5" y2="362.0" stroke="#2c2c2c" stroke-width="2.2" />
<rect x="530.5" y="350.0" width="4.0" height="12.0" fill="#8a8a8a" />
<rect x="538.0" y="346.0" width="1.6" height="8.0" fill="#c9772e" />
<rect x="532.5" y="364.0" width="1.6" height="8.0" fill="#c9772e" />
<polygon points="519.0,340.0 531.0,345.0 531.0,371.0 519.0,380.0" fill="#5a5a5a" />
<rect x="518.6" y="338.0" width="3.2" height="42.0" fill="#242424" />
<rect x="525.2" y="343.0" width="2.6" height="32.0" fill="#2c2c2c" />
<rect x="529.6" y="345.0" width="2.4" height="27.0" fill="#242424" />
<polygon points="508.0,338.0 516.0,352.0 516.0,372.0 508.0,368.0" fill="#6e6e6e" />
<path d="M505.5,330 L505.5,317 Q506,312.5 510.5,314.5 L514,316.5 Q516.5,318 516.5,322 L516.5,354" fill="none" stroke="#2e2e2e" stroke-width="3.6"/>
<path d="M505.5,330 L505.5,317 Q506,312.5 510.5,314.5 L514,316.5 Q516.5,318 516.5,322 L516.5,354" fill="none" stroke="#8a8a8a" stroke-width="1.2"/>
<line x1="511.0" y1="330.0" x2="511.0" y2="352.0" stroke="#444" stroke-width="2" />
<line x1="521.0" y1="330.0" x2="521.0" y2="356.0" stroke="#333" stroke-width="1.8" />
<polygon points="493.5,316.0 499.0,314.5 500.5,322.0 499.0,330.0 494.0,331.0 492.5,323.0" fill="#222" />
<line x1="494.6" y1="330.0" x2="494.6" y2="346.0" stroke="#555" stroke-width="2.4" />
<line x1="499.0" y1="332.0" x2="499.0" y2="346.0" stroke="#777" stroke-width="1.6" />
<polyline points="487.0,308.0 502.0,301.6" fill="none" stroke="#1e1e1e" stroke-width="3.2" />
<polyline points="488.0,314.0 504.0,301.6 510.0,297.0" fill="none" stroke="#5a48c0" stroke-width="1.3" />
<line x1="488.0" y1="313.8" x2="488.0" y2="349.0" stroke="#6a58c8" stroke-width="1.4" />
<polygon points="479.6,356.0 502.0,366.2 502.5,392.0 480.0,381.0" fill="#e4e4e4" stroke="#808080" stroke-width="0.8" />
<polygon points="502.0,366.2 518.9,356.0 519.0,379.0 502.5,392.0" fill="#cdcdcd" stroke="#808080" stroke-width="0.8" />
<polygon points="495.0,346.5 518.9,356.0 502.0,366.2 479.6,356.0" fill="#c4c4c4" stroke="#7a7a7a" stroke-width="0.9" />
<line x1="484.1" y1="358.0" x2="484.5" y2="383.2" stroke="#8a8a8a" stroke-width="1" />
<line x1="505.4" y1="364.2" x2="505.8" y2="389.4" stroke="#848484" stroke-width="1" />
<line x1="488.6" y1="360.1" x2="489.0" y2="385.4" stroke="#8a8a8a" stroke-width="1" />
<line x1="508.8" y1="362.1" x2="509.1" y2="386.8" stroke="#848484" stroke-width="1" />
<line x1="493.0" y1="362.1" x2="493.5" y2="387.6" stroke="#8a8a8a" stroke-width="1" />
<line x1="512.1" y1="360.1" x2="512.4" y2="384.2" stroke="#848484" stroke-width="1" />
<line x1="497.5" y1="364.2" x2="498.0" y2="389.8" stroke="#8a8a8a" stroke-width="1" />
<line x1="515.5" y1="358.0" x2="515.7" y2="381.6" stroke="#848484" stroke-width="1" />
<polyline points="479.7,362.2 502.1,372.6 518.9,361.8" fill="none" stroke="#8a8a8a" stroke-width="1" />
<polyline points="479.8,368.5 502.2,379.1 519.0,367.5" fill="none" stroke="#8a8a8a" stroke-width="1" />
<polyline points="479.9,374.8 502.4,385.6 519.0,373.2" fill="none" stroke="#8a8a8a" stroke-width="1" />
<polyline points="487.3,351.2 510.4,361.1" fill="none" stroke="#9a9a9a" stroke-width="0.8" />
<ellipse cx="498.8" cy="355.0" rx="2.6" ry="1.6" fill="#f4f4f4" stroke="#111" stroke-width="1.7" />
<polyline points="477.7,381.0 505.8,393.3 552.6,352.0" fill="none" stroke="#2c2c2c" stroke-width="3" />
<polyline points="519.0,380.0 533.0,386.0" fill="none" stroke="#2c2c2c" stroke-width="2" />
<polyline points="519.5,381.5 541.0,362.0" fill="none" stroke="#444" stroke-width="1.6" />
<line x1="478.2" y1="381.0" x2="478.2" y2="391.5" stroke="#2c2c2c" stroke-width="2.4" />
<line x1="506.0" y1="393.0" x2="506.0" y2="402.5" stroke="#2c2c2c" stroke-width="2.4" />
<line x1="520.0" y1="381.0" x2="520.0" y2="389.0" stroke="#2c2c2c" stroke-width="2.4" />
<line x1="534.0" y1="369.0" x2="534.0" y2="377.0" stroke="#2c2c2c" stroke-width="2.4" />
<line x1="552.6" y1="352.0" x2="552.6" y2="361.0" stroke="#2c2c2c" stroke-width="2.4" />
</g>
<polyline points="306.0,313.5 318.0,311.5 322.5,313.0 327.5,322.5" fill="none" stroke="#b5764a" stroke-width="1.6" />
<ellipse cx="322.5" cy="312.3" rx="2.0" ry="2.0" fill="#f08a2c" />
<line x1="331.6" y1="340.9" x2="331.6" y2="362.0" stroke="#747aae" stroke-width="2.4" />
<line x1="286.2" y1="346.1" x2="286.2" y2="367.2" stroke="#747aae" stroke-width="2.4" />
<polygon points="292.7,357.3 299.7,354.3 310.7,358.3 310.7,363.3 303.7,365.3 293.7,362.3" fill="#161616" />
<polygon points="303.7,353.3 311.7,356.3 311.7,361.3 305.7,358.3" fill="#3a3a3a" />
<ellipse cx="301.7" cy="360.3" rx="2.2" ry="2.2" fill="#f08a2c" />
<polygon points="304.3,313.2 331.3,323.1 314.2,340.2 285.2,329.7" fill="#3b4099" />
<polygon points="285.2,329.7 304.3,313.2 304.3,329.2 294.2,334.7" fill="#cacaca" />
<polygon points="304.3,313.2 331.3,323.1 320.3,334.1 304.3,329.2" fill="#595ec4" />
<polygon points="301.1,331.6 308.9,324.5 317.9,329.6 310.4,335.9" fill="#12153a" />
<polyline points="308.9,324.5 310.4,335.9" fill="none" stroke="#343aa0" stroke-width="1.1" />
<polyline points="301.1,331.6 309.6,329.9 317.9,329.6" fill="none" stroke="#2a2f86" stroke-width="0.9" />
<polygon points="285.2,329.7 314.2,340.2 314.2,355.3 285.2,346.1" fill="#5b60c4" stroke="#474c9c" stroke-width="0.8" />
<polygon points="314.2,340.2 331.3,323.1 331.3,340.9 314.2,355.3" fill="#c7c7c8" stroke="#7d82bd" stroke-width="0.8" />
<polygon points="304.3,313.2 331.3,323.1 314.2,340.2 285.2,329.7" fill="none" stroke="#5d63b6" stroke-width="1.4" />
<line x1="314.5" y1="340.2" x2="314.5" y2="377.7" stroke="#6e74bb" stroke-width="2.8" />
<polyline points="286.2,347.3 314.7,356.5 331.3,342.1" fill="none" stroke="#7378ba" stroke-width="1.5" />
<ellipse cx="316.7" cy="356.5" rx="0.9" ry="0.9" fill="#c8c83a" />
<ellipse cx="328.8" cy="344.9" rx="0.9" ry="0.9" fill="#c8c83a" />
<rect x="279.5" y="344.0" width="7.0" height="3.0" fill="#333" />
<polyline points="402.0,347.0 414.0,344.5 419.0,346.0 424.0,355.0" fill="none" stroke="#b5764a" stroke-width="1.6" />
<ellipse cx="419.0" cy="345.4" rx="2.0" ry="2.0" fill="#f08a2c" />
<line x1="385.0" y1="335.5" x2="385.0" y2="362.0" stroke="#3f73c8" stroke-width="1.6" />
<line x1="429.7" y1="374.5" x2="429.7" y2="394.0" stroke="#747aae" stroke-width="2.4" />
<line x1="381.8" y1="379.9" x2="381.8" y2="400.8" stroke="#747aae" stroke-width="2.4" />
<polygon points="389.3,390.3 396.3,387.3 407.3,391.3 407.3,396.3 400.3,398.3 390.3,395.3" fill="#161616" />
<polygon points="400.3,386.3 408.3,389.3 408.3,394.3 402.3,391.3" fill="#3a3a3a" />
<ellipse cx="398.3" cy="393.3" rx="2.2" ry="2.2" fill="#f08a2c" />
<polygon points="400.4,346.8 429.4,355.6 410.5,371.8 380.8,362.3" fill="#3b4099" />
<polygon points="380.8,362.3 400.4,346.8 400.4,362.8 389.8,367.3" fill="#cacaca" />
<polygon points="400.4,346.8 429.4,355.6 418.4,366.6 400.4,362.8" fill="#595ec4" />
<polygon points="397.9,364.2 405.8,357.1 414.8,362.2 407.3,368.5" fill="#12153a" />
<polyline points="405.8,357.1 407.3,368.5" fill="none" stroke="#343aa0" stroke-width="1.1" />
<polyline points="397.9,364.2 406.5,362.5 414.8,362.2" fill="none" stroke="#2a2f86" stroke-width="0.9" />
<polygon points="380.8,362.3 410.5,371.8 410.5,386.0 380.8,379.9" fill="#5b60c4" stroke="#474c9c" stroke-width="0.8" />
<polygon points="410.5,371.8 429.4,355.6 429.4,374.5 410.5,386.0" fill="#c7c7c8" stroke="#7d82bd" stroke-width="0.8" />
<polygon points="400.4,346.8 429.4,355.6 410.5,371.8 380.8,362.3" fill="none" stroke="#5d63b6" stroke-width="1.4" />
<line x1="410.8" y1="371.8" x2="410.8" y2="410.3" stroke="#6e74bb" stroke-width="2.8" />
<polyline points="381.8,381.1 411.0,387.2 429.4,375.7" fill="none" stroke="#7378ba" stroke-width="1.5" />
<ellipse cx="413.0" cy="387.2" rx="0.9" ry="0.9" fill="#c8c83a" />
<ellipse cx="426.9" cy="378.5" rx="0.9" ry="0.9" fill="#c8c83a" />
<line x1="296.0" y1="366.0" x2="291.5" y2="369.0" stroke="#6a7fe0" stroke-width="1.2" stroke-dasharray="3 2"/>
<line x1="396.7" y1="397.9" x2="383.4" y2="406.4" stroke="#5a6fd8" stroke-width="1.2" stroke-dasharray="4 2.5"/>
</g>
<g id="callouts" fill="none" stroke="#3b6ebc" stroke-width="1.9" stroke-linecap="round" stroke-linejoin="round">
<polyline points="252.6,104.2 394.3,104.3 413.4,134.3" fill="none" stroke="#3b6ebc" stroke-width="1.9" />
<polyline points="411.5,142.5 347.5,213.4" fill="none" stroke="#3b6ebc" stroke-width="1.9" />
<polyline points="412.6,143.0 444.0,244.6" fill="none" stroke="#3b6ebc" stroke-width="1.9" />
<polyline points="730.9,129.7 544.3,129.8 481.5,236.6" fill="none" stroke="#3b6ebc" stroke-width="1.9" />
<polyline points="695.3,198.2 573.6,197.9 526.0,235.8" fill="none" stroke="#3b6ebc" stroke-width="1.9" />
<polyline points="739.8,352.4 552.2,352.4 536.4,323.0" fill="none" stroke="#3b6ebc" stroke-width="1.9" />
<polyline points="552.2,352.4 545.6,323.0" fill="none" stroke="#3b6ebc" stroke-width="1.9" />
<polyline points="258.7,404.6 291.0,368.6" fill="none" stroke="#3b6ebc" stroke-width="1.9" />
<polyline points="258.7,404.6 376.4,388.5" fill="none" stroke="#3b6ebc" stroke-width="1.9" />
<polyline points="259.8,404.6 259.8,494.6 369.8,494.6" fill="none" stroke="#3b6ebc" stroke-width="1.9" />
</g>
<circle cx="412.9" cy="135.6" r="11.8" fill="#3968b6"/>
<text x="412.9" y="141.7" text-anchor="middle" font-family="Liberation Sans, sans-serif" font-weight="700" font-size="18" fill="#fff">3</text>
<circle cx="483.2" cy="238.1" r="11.8" fill="#3968b6"/>
<text x="483.2" y="244.2" text-anchor="middle" font-family="Liberation Sans, sans-serif" font-weight="700" font-size="18" fill="#fff">2</text>
<circle cx="521.5" cy="233.9" r="11.8" fill="#3968b6"/>
<text x="521.5" y="240.0" text-anchor="middle" font-family="Liberation Sans, sans-serif" font-weight="700" font-size="18" fill="#fff">1</text>
<circle cx="540.6" cy="318.8" r="11.8" fill="#3968b6"/>
<text x="540.6" y="324.90000000000003" text-anchor="middle" font-family="Liberation Sans, sans-serif" font-weight="700" font-size="18" fill="#fff">5</text>
<circle cx="258.7" cy="404.6" r="11.8" fill="#3968b6"/>
<text x="258.7" y="410.70000000000005" text-anchor="middle" font-family="Liberation Sans, sans-serif" font-weight="700" font-size="18" fill="#fff">4</text>
</svg>
</body></html>
